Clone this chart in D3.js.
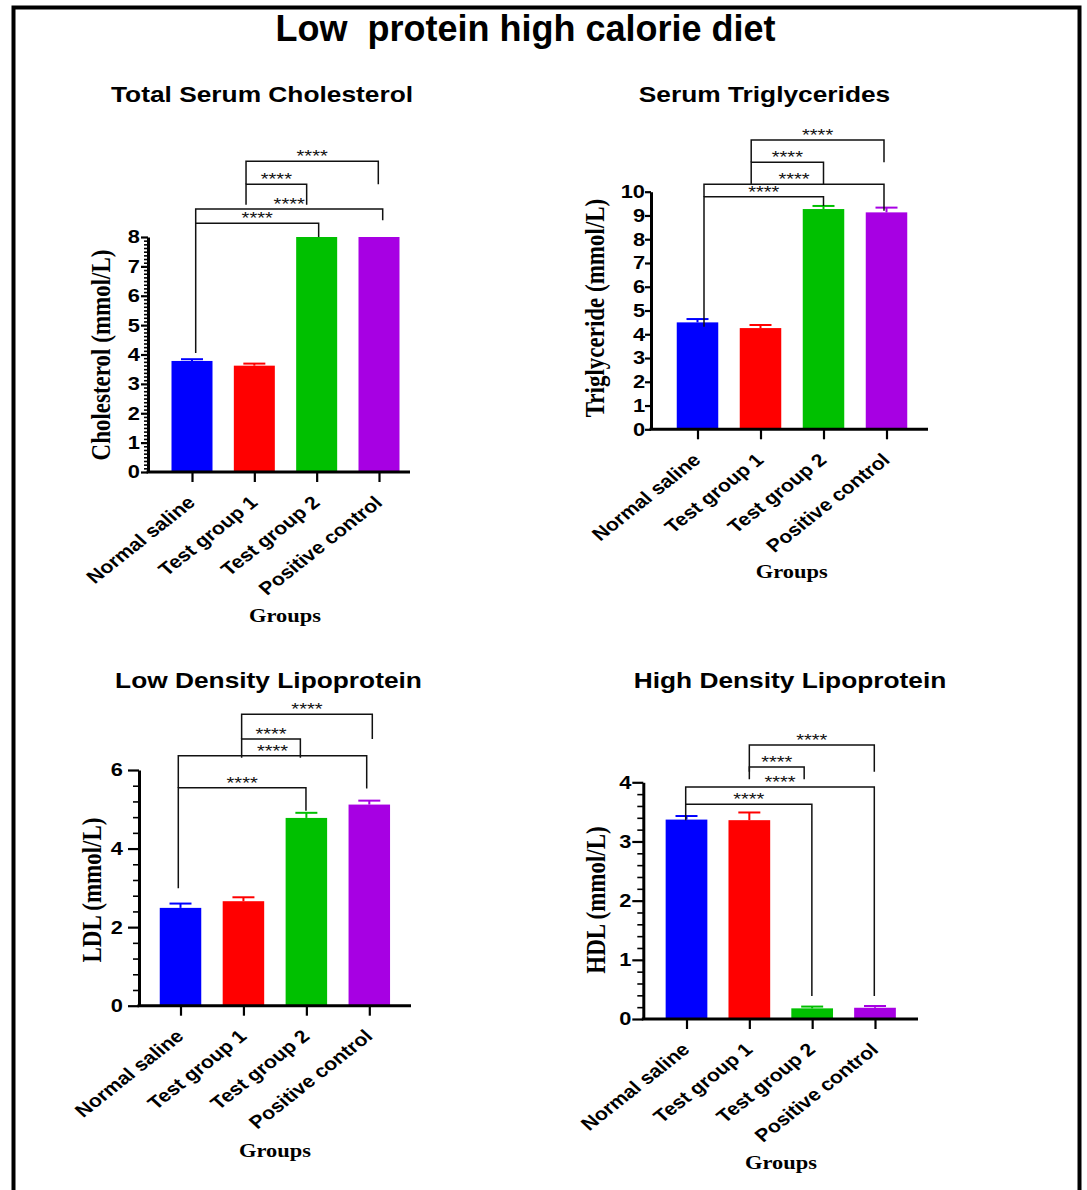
<!DOCTYPE html>
<html><head><meta charset="utf-8">
<script src="https://cdn.jsdelivr.net/npm/d3@7"></script>
<style>body{margin:0;background:#fff} svg{display:block}</style>
</head><body>
<svg id="c" width="1087" height="1190"></svg>
<script>
// ---------------- data ----------------
const groups = ["Normal saline", "Test group 1", "Test group 2", "Positive control"];
const colors = ["#0000FF", "#FF0000", "#00C000", "#A700E3"];

const cholMean = [3.78, 3.62, 8.0, 8.0];
const cholErr  = [0.06, 0.07, 0, 0];
const tgMean   = [4.50, 4.26, 9.27, 9.13];
const tgErr    = [0.14, 0.13, 0.13, 0.20];
const ldlMean  = [2.49, 2.66, 4.78, 5.12];
const ldlErr   = [0.11, 0.10, 0.13, 0.10];
const hdlMean  = [3.37, 3.36, 0.18, 0.19];
const hdlErr   = [0.06, 0.13, 0.03, 0.03];

const cholTicks = [0, 1, 2, 3, 4, 5, 6, 7, 8];
const tgTicks   = [0, 1, 2, 3, 4, 5, 6, 7, 8, 9, 10];
const ldlTicks  = [0, 2, 4, 6];
const hdlTicks  = [0, 1, 2, 3, 4];

const sigLabel = "****";
// comparisons: [fromGroup, toGroup, bracket level, left-leg bottom, right-leg bottom] (data units)
const cholComp = [[0, 2, 8.47, 4.05, 8.0], [0, 3, 8.95, 8.47, 8.57], [1, 2, 9.8, 9.1, 9.1], [1, 3, 10.58, 9.8, 9.8]];
const tgComp   = [[0, 2, 9.79, 4.32, 9.4], [0, 3, 10.31, 9.79, 9.2], [1, 2, 11.24, 10.31, 10.31], [1, 3, 12.18, 11.24, 11.24]];
const ldlComp  = [[0, 2, 5.55, 2.99, 4.96], [0, 3, 6.36, 5.55, 5.53], [1, 2, 6.79, 6.31, 6.31], [1, 3, 7.42, 6.79, 6.79]];
const hdlComp  = [[0, 2, 3.63, 3.36, 0.39], [0, 3, 3.92, 3.63, 0.39], [1, 2, 4.26, 4.05, 4.05], [1, 3, 4.63, 4.18, 4.18]];

const mainTitle = "Low  protein high calorie diet";
const panelTitles = ["Total Serum Cholesterol", "Serum Triglycerides", "Low Density Lipoprotein", "High Density Lipoprotein"];
const yTitles = ["Cholesterol (mmol/L)", "Triglyceride (mmol/L)", "LDL (mmol/L)", "HDL (mmol/L)"];
const xTitle = "Groups";

// ---------------- layout ----------------
const S = 1.18; // horizontal stretch of the panel lettering
const sans = "'Liberation Sans', Arial, Helvetica, sans-serif";
const serif = "'Liberation Serif', 'Times New Roman', Times, serif";

const panels = [
  {mean: cholMean, err: cholErr, ticks: cholTicks, comps: cholComp,
   L: {ax: 148, y0: 472, yTopPx: 237, c0: 192, c1: 379, bw: 41, xEnd: 410, major: 7, minor: 4, minorStep: 0.125, gap: 8,
       tx: 262, ty: 102, ylx: 110, yly: 355, gx: 285, gy: 622,
       legs: [[3.7, 2], [3.7, 3.7], [-8.3, -10], [-8.3, -0.7]]}},
  {mean: tgMean, err: tgErr, ticks: tgTicks, comps: tgComp,
   L: {ax: 651, y0: 429.3, yTopPx: 191.7, c0: 697.5, c1: 886.5, bw: 41.5, xEnd: 928, major: 6, minor: 0, minorStep: 0, gap: 6,
       tx: 764.5, ty: 102, ylx: 604, yly: 308, gx: 791.7, gy: 578,
       legs: [[6.5, 0], [6.5, -2.5], [-9.3, 0], [-9.3, -2.5]]}},
  {mean: ldlMean, err: ldlErr, ticks: ldlTicks, comps: ldlComp,
   L: {ax: 139, y0: 1005.7, yTopPx: 770, c0: 180.5, c1: 369.3, bw: 41.5, xEnd: 411, major: 11, minor: 6, minorStep: 0.4, gap: 16,
       tx: 268.5, ty: 688, ylx: 101, yly: 890, gx: 275, gy: 1157,
       legs: [[-2.2, -0.4], [-2.2, -2.6], [-1.8, -6], [-1.8, 3]]}},
  {mean: hdlMean, err: hdlErr, ticks: hdlTicks, comps: hdlComp,
   L: {ax: 643.3, y0: 1019, yTopPx: 782.3, c0: 686.5, c1: 875, bw: 41.7, xEnd: 918, major: 11, minor: 6, minorStep: 0.2, gap: 12,
       tx: 790, ty: 688, ylx: 605, yly: 900, gx: 781, gy: 1169,
       legs: [[-0.8, -0.3], [-0.8, -0.7], [0, -8], [0, -0.7]]}}
];

const svg = d3.select("#c");

// frame
svg.append("rect").attr("x", 13.5).attr("y", 7.5).attr("width", 1066).attr("height", 1200)
  .attr("fill", "none").attr("stroke", "#000").attr("stroke-width", 4);

// main title
svg.append("text").attr("x", 525.5).attr("y", 41).attr("text-anchor", "middle")
  .style("white-space", "pre").attr("font-family", sans).attr("font-weight", "bold")
  .attr("font-size", 36).attr("fill", "#000").text(mainTitle);

panels.forEach((p, pi) => {
  const L = p.L;
  const yMax = p.ticks[p.ticks.length - 1];
  const step = p.ticks[1] - p.ticks[0];
  const g = svg.append("g");
  const y = d3.scaleLinear().domain([0, yMax]).range([L.y0, L.yTopPx]);
  const x = d3.scalePoint().domain(groups).range([L.c0, L.c1]);

  // bars
  g.append("g").selectAll("rect").data(p.mean).join("rect")
    .attr("x", (d, i) => x(groups[i]) - L.bw / 2)
    .attr("width", L.bw)
    .attr("y", d => y(d))
    .attr("height", d => y(0) - y(d))
    .attr("fill", (d, i) => colors[i]);

  // error bars (upper only)
  const eb = g.append("g");
  p.mean.forEach((m, i) => {
    if (!p.err[i]) return;
    const cx = x(groups[i]);
    eb.append("line").attr("x1", cx).attr("x2", cx).attr("y1", y(m)).attr("y2", y(m + p.err[i]))
      .attr("stroke", colors[i]).attr("stroke-width", 2);
    eb.append("line").attr("x1", cx - 11).attr("x2", cx + 11).attr("y1", y(m + p.err[i])).attr("y2", y(m + p.err[i]))
      .attr("stroke", colors[i]).attr("stroke-width", 2);
  });

  // y axis: minor ticks
  if (L.minorStep) {
    const minors = d3.range(0, yMax + 1e-9, L.minorStep)
      .filter(v => Math.abs(v - Math.round(v / step) * step) > 1e-6);
    const ma = g.append("g").attr("transform", `translate(${L.ax},0)`)
      .call(d3.axisLeft(y).tickValues(minors).tickSize(L.minor).tickFormat(""));
    ma.select(".domain").remove();
    ma.selectAll("line").attr("stroke", "#000").attr("stroke-width", 1.6);
  }
  // y axis: major
  const ya = g.append("g").attr("transform", `translate(${L.ax},0)`)
    .call(d3.axisLeft(y).tickValues(p.ticks).tickSize(L.major).tickSizeOuter(0).tickFormat(d3.format("d")));
  ya.select(".domain").attr("stroke", "#000").attr("stroke-width", 3);
  ya.selectAll(".tick line").attr("stroke", "#000").attr("stroke-width", 2.2);
  ya.selectAll(".tick text")
    .attr("x", -L.gap / S)
    .attr("transform", `scale(${S},1)`)
    .attr("font-family", sans).attr("font-weight", "bold").attr("font-size", 18.5).attr("fill", "#000");

  // x axis
  const xa = g.append("g").attr("transform", `translate(0,${L.y0})`)
    .call(d3.axisBottom(x).tickSize(10).tickSizeOuter(0));
  xa.select(".domain").remove();
  xa.append("line").attr("x1", L.ax - 1.5).attr("x2", L.xEnd).attr("y1", 0).attr("y2", 0)
    .attr("stroke", "#000").attr("stroke-width", 3);
  xa.selectAll(".tick line").attr("stroke", "#000").attr("stroke-width", 2.2);
  xa.selectAll(".tick text")
    .attr("x", null).attr("y", null).attr("dy", null)
    .attr("text-anchor", "end")
    .attr("transform", `translate(4,32) scale(${S},1) rotate(-43)`)
    .attr("font-family", sans).attr("font-weight", "bold").attr("font-size", 18).attr("fill", "#000");

  // significance brackets
  const br = g.append("g");
  p.comps.forEach((c, k) => {
    const [a, b, lvl, lb, rb] = c;
    const xl = x(groups[a]) + L.legs[k][0];
    const xr = x(groups[b]) + L.legs[k][1];
    br.append("path")
      .attr("d", `M${xl},${y(lb)}V${y(lvl)}H${xr}V${y(rb)}`)
      .attr("fill", "none").attr("stroke", "#111").attr("stroke-width", 1.5);
    br.append("text")
      .attr("transform", `translate(${(xl + xr) / 2},${y(lvl) + 1}) scale(${S},1)`)
      .attr("text-anchor", "middle")
      .attr("font-family", sans).attr("font-size", 17).attr("fill", "#111")
      .text(sigLabel);
  });

  // panel title
  g.append("text")
    .attr("transform", `translate(${L.tx},${L.ty}) scale(${S},1)`)
    .attr("text-anchor", "middle")
    .attr("font-family", sans).attr("font-weight", "bold").attr("font-size", 22.3).attr("fill", "#000")
    .text(panelTitles[pi]);

  // y title
  g.append("text")
    .attr("transform", `translate(${L.ylx},${L.yly}) scale(${S},1) rotate(-90)`)
    .attr("text-anchor", "middle")
    .attr("font-family", serif).attr("font-weight", "bold").attr("font-size", 23).attr("fill", "#000")
    .text(yTitles[pi]);

  // x title
  g.append("text")
    .attr("transform", `translate(${L.gx},${L.gy}) scale(${S},1)`)
    .attr("text-anchor", "middle")
    .attr("font-family", serif).attr("font-weight", "bold").attr("font-size", 19).attr("fill", "#000")
    .text(xTitle);
});
</script>
</body></html>
